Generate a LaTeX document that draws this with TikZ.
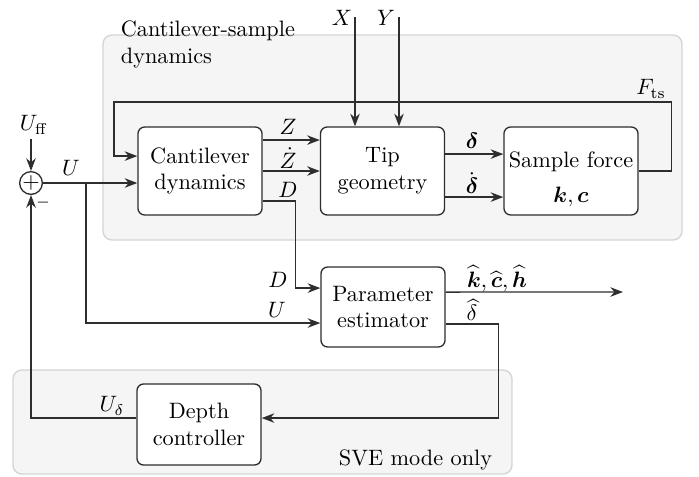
\documentclass[tikz,border=0pt]{standalone}
\usepackage{amsmath}
\usetikzlibrary{arrows.meta,positioning}
\definecolor{ctlInk}{HTML}{2E2E2E}
\definecolor{ctlZone}{HTML}{F5F5F5}
\definecolor{ctlEdge}{HTML}{D4D4D4}
\tikzset{
  every picture/.style={text=black},
  ctl box/.style={draw=ctlInk, line width=0.6pt, rounded corners=3pt,
    fill=white, align=center, minimum width=55.7pt, minimum height=39.5pt, inner sep=1pt},
  ctl zone/.style={fill=ctlZone, draw=ctlEdge, line width=0.6pt, rounded corners=4pt},
  ctl line/.style={draw=ctlInk, line width=0.6pt},
  ctl arrow/.style={ctl line, -{Stealth[length=2mm,width=1.5mm]}},
  ctl sum/.style={draw=ctlInk, line width=0.6pt, circle, inner sep=0pt, minimum size=9.9pt}
}
\begin{document}
\begin{tikzpicture}[x=0.449pt,y=-0.449pt]
  \useasboundingbox (0,0) rectangle (699,476);
  % shaded regions
  \draw[ctl zone] (103,35) rectangle (682,240);
  \draw[ctl zone] (13,370) rectangle (512,474);
  \node[anchor=base west, align=left] (zonetop) at (113,63) {Cantilever-sample\\dynamics};
  \node[anchor=base east] (zonebot) at (500,465) {SVE mode only};
  % blocks
  \node[ctl box] (cant) at (200,171) {Cantilever\\dynamics};
  \node[ctl box] (tip) at (382.5,171) {Tip\\geometry};
  \node[ctl box, minimum width=60.2pt] (force) at (571,171) {\rule{0pt}{14.5pt}Sample force\\[3.5pt]$\boldsymbol{k},\boldsymbol{c}$};
  \node[ctl box, minimum height=35.9pt] (est) at (383,307) {Parameter\\estimator};
  \node[ctl box, minimum height=36.4pt] (depth) at (199,424.5) {Depth\\controller};
  \node[ctl sum] (sum) at (31,183) {$+$};
  % inputs
  \node[inner sep=2pt] (uff) at (34,125) {$U_{\mathrm{ff}}$};
  \coordinate (xtop) at (355,17);
  \coordinate (ytop) at (399,17);
  \draw[ctl arrow] (uff.south -| sum) -- (sum.north);
  \draw[ctl arrow] (xtop) -- (xtop |- tip.north);
  \draw[ctl arrow] (ytop) -- (ytop |- tip.north);
  \node at (342,18) {$X$};
  \node at (386,18) {$Y$};
  % signals
  \coordinate (ubr) at (86,183);
  \coordinate (kout) at (623,292);
  \coordinate (fret) at (114,102);
  \draw[ctl arrow] (sum) -- (cant.west |- sum);
  \draw[ctl arrow] (ubr) |- ([yshift=-7.2pt]est.west);
  \draw[ctl arrow] ([yshift=13.9pt]cant.east) -- ([yshift=13.9pt]tip.west);
  \draw[ctl arrow] (cant.east) -- (tip.west);
  \draw[ctl arrow] ([yshift=-13.5pt]cant.east) -- ++(14.8pt,0) |- ([yshift=8.5pt]est.west);
  \draw[ctl arrow] ([yshift=7.6pt]tip.east) -- ([yshift=7.6pt]force.west);
  \draw[ctl arrow] ([yshift=-11.7pt]tip.east) -- ([yshift=-11.7pt]force.west);
  \draw[ctl arrow] (force.east) -- ++(14.8pt,0) |- (fret) |- ([yshift=6.7pt]cant.west);
  \draw[ctl arrow] ([yshift=6.7pt]est.east) -- (kout);
  \draw[ctl arrow] ([yshift=-7.6pt]est.east) -- ++(23.8pt,0) |- ([yshift=2.9pt]depth.east);
  \draw[ctl arrow] ([yshift=2.9pt]depth.west) -| (sum.south);
  % labels
  \node at (71,168) {$U$};
  \node at (43,203) {$\scriptstyle -$};
  \node at (288,127) {$Z$};
  \node at (288,158) {$\dot{Z}$};
  \node at (288,190) {$D$};
  \node at (472,141) {$\boldsymbol{\delta}$};
  \node at (472,183) {$\dot{\boldsymbol{\delta}}$};
  \node at (651,89) {$F_{\mathrm{ts}}$};
  \node at (278,280) {$D$};
  \node at (277,310) {$U$};
  \node at (497,279) {$\widehat{\boldsymbol{k}},\widehat{\boldsymbol{c}},\widehat{\boldsymbol{h}}$};
  \node at (472,310) {$\widehat{\delta}$};
  \node at (112,406) {$U_{\delta}$};
\end{tikzpicture}
\end{document}
